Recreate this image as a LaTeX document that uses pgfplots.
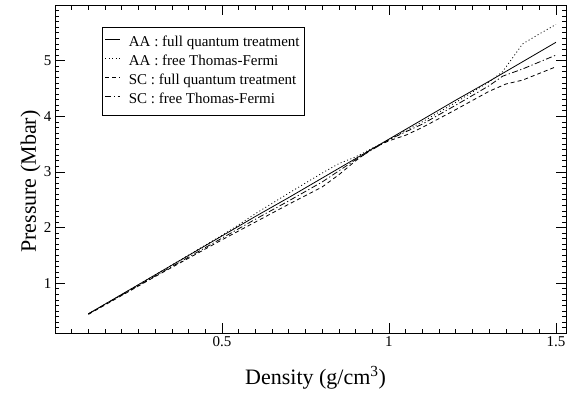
\documentclass[border=0pt]{standalone}
\usepackage{fontspec}
\setmainfont{Liberation Serif}
\usepackage{pgfplots}
\pgfplotsset{compat=1.18}
\begin{document}
\begin{tikzpicture}
\path[use as bounding box] (-55bp,-60.7bp) rectangle (516bp,333.3bp);
\begin{axis}[
 at={(0,0)}, anchor=south west,
 scale only axis, width=511bp, height=328.3bp,
 xmin=0, xmax=1.53, ymin=0.1, ymax=6,
 xtick={0.5,1,1.5}, ytick={1,2,3,4,5},
 minor xtick={0.05,0.1,...,1.52},
 minor ytick={0.2,0.3,...,5.95},
 major tick length=10bp, minor tick length=4.5bp,
 tick align=inside,
 every tick/.style={black, line width=0.7bp},
 axis line style={line width=0.8bp},
 /pgf/number format/assume math mode=true,
 ticklabel style={font=\fontsize{15bp}{18bp}\selectfont},
 xlabel={Density (g/cm\textsuperscript{3})},
 ylabel={Pressure (Mbar)},
 label style={font=\fontsize{22bp}{26bp}\selectfont},
 xlabel style={at={(axis description cs:0.51,-0.135)}, anchor=center},
 ylabel style={at={(axis description cs:-0.048,0.462)}, anchor=center},
 legend style={at={(axis description cs:0.0914,0.932)}, anchor=north west,
   draw=black, line width=0.7bp, font=\fontsize{15bp}{17bp}\selectfont,
   inner xsep=3bp, inner ysep=6bp, row sep=0bp, column sep=6bp,
   nodes={inner sep=2bp, text height=11bp, text depth=4bp}},
 legend cell align=left,
 legend image code/.code={\draw[#1] (0bp,4bp) -- (15bp,4bp);},
 every axis plot/.append style={line width=0.8bp, black},
]
\addplot[solid, no markers] coordinates {(0.1,0.45) (0.2,0.80) (0.3,1.15) (0.4,1.50) (0.5,1.85) (0.6,2.20) (0.7,2.54) (0.8,2.89) (0.9,3.24) (1.0,3.59) (1.1,3.94) (1.2,4.29) (1.3,4.63) (1.4,4.98) (1.5,5.33)};
\addlegendentry{AA : full quantum treatment}
\addplot[dash pattern=on 1bp off 2.5bp] coordinates {(0.1,0.45) (0.3,1.15) (0.5,1.86) (0.55,2.05) (0.6,2.25) (0.7,2.62) (0.8,2.98) (0.85,3.15) (0.9,3.27) (1.0,3.58) (1.1,3.90) (1.2,4.25) (1.3,4.62) (1.34,4.80) (1.37,5.05) (1.4,5.30) (1.45,5.48) (1.5,5.65)};
\addlegendentry{AA : free Thomas-Fermi}
\addplot[dash pattern=on 4bp off 3bp] coordinates {(0.1,0.44) (0.3,1.12) (0.5,1.78) (0.6,2.10) (0.7,2.42) (0.8,2.73) (0.85,2.95) (0.9,3.20) (0.95,3.42) (1.0,3.56) (1.05,3.66) (1.1,3.80) (1.2,4.12) (1.3,4.45) (1.35,4.58) (1.4,4.65) (1.5,4.89)};
\addlegendentry{SC : full quantum treatment}
\addplot[dash pattern=on 6bp off 2.5bp on 1.2bp off 2.5bp] coordinates {(0.1,0.45) (0.3,1.13) (0.5,1.81) (0.6,2.15) (0.7,2.48) (0.8,2.82) (0.9,3.22) (1.0,3.58) (1.1,3.86) (1.2,4.20) (1.3,4.55) (1.34,4.72) (1.4,4.85) (1.5,5.10)};
\addlegendentry{SC : free Thomas-Fermi}
\end{axis}
\end{tikzpicture}
\end{document}
